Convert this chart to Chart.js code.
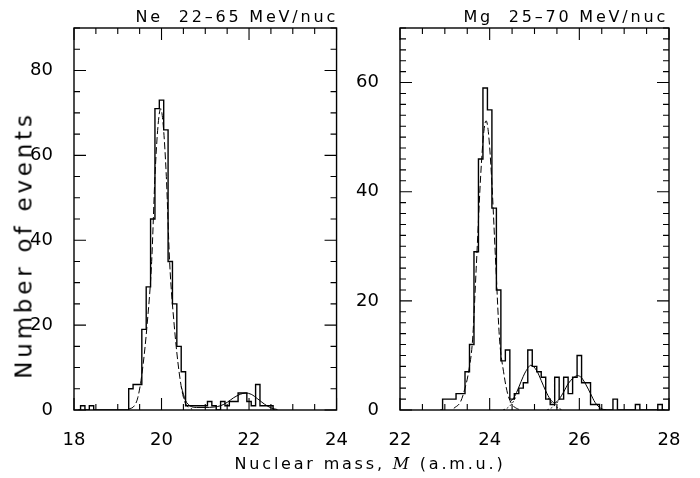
<!DOCTYPE html>
<html>
<head>
<meta charset="utf-8">
<script src="https://cdn.jsdelivr.net/npm/chart.js@4.4.1/dist/chart.umd.min.js"></script>
<style>
  body { margin: 0; background: #fff; }
  #wrap { position: relative; width: 700px; height: 478px; overflow: hidden;
          font-family: 'DejaVu Sans ExtraLight', 'DejaVu Sans', sans-serif; color: #000; }
  canvas { position: absolute; top: 0; }
  .lbl { position: absolute; white-space: nowrap; line-height: 1; }
</style>
</head>
<body>
<div id="wrap">
  <canvas id="neChart" width="360" height="478" style="left:0"></canvas>
  <canvas id="mgChart" width="350" height="478" style="left:350px"></canvas>
  <div class="lbl" style="right:362px; top:9px; font-size:16px; letter-spacing:2.8px;">Ne&nbsp;&nbsp;22–65 MeV/nuc</div>
  <div class="lbl" style="right:32px; top:9px; font-size:16px; letter-spacing:2.8px;">Mg&nbsp;&nbsp;25–70 MeV/nuc</div>
  <div class="lbl" style="left:24px; top:245px; font-size:23px; letter-spacing:3.8px; transform:translate(-50%,-50%) rotate(-90deg);">Number of events</div>
  <div class="lbl" style="left:370px; top:456px; font-size:16px; letter-spacing:2.8px; transform:translateX(-50%);">Nuclear mass, <span style="font-family:'DejaVu Serif',serif; font-style:italic;">M</span> (a.m.u.)</div>
</div>
<script>
// Ne panel: histogram bins (centre, amu) and counts
const neBins = [18.1, 18.2, 18.3, 18.4, 18.5, 18.6, 18.7, 18.8, 18.9, 19.0, 19.1, 19.2,
                19.3, 19.4, 19.5, 19.6, 19.7, 19.8, 19.9, 20.0, 20.1, 20.2, 20.3, 20.4,
                20.5, 20.6, 20.7, 20.8, 20.9, 21.0, 21.1, 21.2, 21.3, 21.4, 21.5, 21.6,
                21.7, 21.8, 21.9, 22.0, 22.1, 22.2, 22.3, 22.4, 22.5, 22.6];
const neCounts = [0, 1, 0, 1, 0, 0, 0, 0, 0, 0, 0, 0,
                  5, 6, 6, 19, 29, 45, 71, 73, 66, 35, 25, 15,
                  9, 1, 1, 1, 1, 1, 2, 1, 0, 2, 1, 2,
                  2, 4, 4, 2, 1, 6, 1, 1, 1, 0];
// Ne fits: main peak (dashed) and tail + 22Ne peak (solid)
const neFitX = [19.25, 19.38, 19.46, 19.555, 19.67, 19.775, 19.85, 19.92, 19.98, 20.04, 20.11, 20.185, 20.29, 20.405, 20.5, 20.58, 20.7];
const neFitY = [0.2, 1, 3, 8.7, 20, 35, 55, 67, 71, 67, 55, 35, 20, 8.7, 3, 1, 0.2];
const neSideX = [20.45, 20.55, 20.65, 20.8, 21.0, 21.2, 21.35, 21.5, 21.65, 21.8, 21.92, 22.05, 22.2, 22.35, 22.5, 22.65];
const neSideY = [5.5, 2.2, 1, 0.6, 0.6, 0.7, 1, 1.8, 2.9, 3.7, 4, 3.7, 2.6, 1.4, 0.5, 0.1];

// Mg panel
const mgBins = [22.9, 23.0, 23.1, 23.2, 23.3, 23.4, 23.5, 23.6, 23.7, 23.8, 23.9, 24.0,
                24.1, 24.2, 24.3, 24.4, 24.5, 24.6, 24.7, 24.8, 24.9, 25.0, 25.1, 25.2,
                25.3, 25.4, 25.5, 25.6, 25.7, 25.8, 25.9, 26.0, 26.1, 26.2, 26.3, 26.4,
                26.5, 26.6, 26.7, 26.8, 26.9, 27.0, 27.1, 27.2, 27.3, 27.4, 27.5, 27.6,
                27.7, 27.8, 27.9];
const mgCounts = [0, 2, 2, 2, 3, 3, 7, 12, 29, 46, 59, 55,
                  37, 22, 9, 11, 2, 3, 4, 5, 11, 8, 7, 6,
                  2, 1, 6, 2, 6, 3, 6, 10, 5, 5, 1, 1,
                  0, 0, 0, 2, 0, 0, 0, 0, 1, 0, 0, 0,
                  0, 1, 0];
const mgFitX = [23.2, 23.35, 23.45, 23.53, 23.62, 23.7, 23.8, 23.87, 23.92, 23.97, 24.04, 24.14, 24.22, 24.31, 24.4, 24.5, 24.6, 24.7];
const mgFitY = [0.3, 1.5, 4, 7, 13, 26, 43, 51, 53, 51, 43, 26, 13, 7, 3, 1, 0.3, 0];
const mgSideX = [24.45, 24.52, 24.6, 24.7, 24.8, 24.92, 25.05, 25.15, 25.25, 25.35, 25.45, 25.55, 25.65, 25.75, 25.87, 25.96, 26.05, 26.15, 26.25, 26.35, 26.48, 26.6];
const mgSideY = [1.5, 2, 3.2, 5.2, 7, 8.2, 7.2, 5.4, 3.5, 2, 1.3, 2, 3.3, 4.8, 5.9, 6.3, 5.9, 4.6, 3, 1.4, 0.3, 0];
// dotted component tails where the fitted peaks cross (null = break)
const mgDotX = [24.3, 24.4, 24.5, 24.58, null, 25.3, 25.42, 25.52, 25.62, null, 25.28, 25.38, 25.48, 25.58];
const mgDotY = [0, 0.4, 1.2, 2.3, null, 2.2, 1, 0.4, 0, null, 0, 0.4, 1.1, 2.2];

const pts = (xs, ys) => xs.map((x, i) => ({ x: x === null ? NaN : x, y: ys[i] }));
const tickFont = { family: "'DejaVu Sans ExtraLight', 'DejaVu Sans', sans-serif", size: 18 };

// box around the plot with inward ticks on all four sides
const frame = {
  id: 'frame',
  afterDatasetsDraw(chart, args, o) {
    const { ctx, chartArea: a, scales: { x, y } } = chart;
    const near = (v, step) => Math.abs(v / step - Math.round(v / step)) < 1e-6;
    ctx.save();
    ctx.strokeStyle = '#000';
    ctx.lineWidth = 1.4;
    ctx.strokeRect(a.left, a.top, a.right - a.left, a.bottom - a.top);
    ctx.beginPath();
    for (let v = x.min; v <= x.max + 1e-6; v += o.xMinor) {
      const p = x.getPixelForValue(v);
      const len = near(v, o.xMajor) ? 12 : 6;
      ctx.moveTo(p, a.bottom); ctx.lineTo(p, a.bottom - len);
      ctx.moveTo(p, a.top); ctx.lineTo(p, a.top + len);
    }
    for (let v = y.min; v <= y.max + 1e-6; v += o.yMinor) {
      const p = y.getPixelForValue(v);
      const len = near(v, o.yMajor) ? 12 : 6;
      ctx.moveTo(a.left, p); ctx.lineTo(a.left + len, p);
      ctx.moveTo(a.right, p); ctx.lineTo(a.right - len, p);
    }
    ctx.lineWidth = 1.1;
    ctx.stroke();
    ctx.restore();
  }
};

function panel(id, s) {
  const sets = [
    { data: pts(s.bins, s.counts), stepped: 'middle', borderColor: '#000', borderWidth: 1.4, pointRadius: 0, fill: false },
    { data: pts(s.fitX, s.fitY), borderColor: '#000', borderWidth: 1, borderDash: [7, 3], cubicInterpolationMode: 'monotone', pointRadius: 0, fill: false },
    { data: pts(s.sideX, s.sideY), borderColor: '#000', borderWidth: 1, cubicInterpolationMode: 'monotone', pointRadius: 0, fill: false }
  ];
  if (s.dotX) {
    sets.push({ data: s.dotX.map((x, i) => ({ x: x, y: s.dotY[i] })), borderColor: '#000', borderWidth: 0.9,
      borderDash: [2, 2], tension: 0.3, pointRadius: 0, fill: false, spanGaps: false });
  }
  return new Chart(document.getElementById(id), {
    type: 'line',
    data: { datasets: sets },
    options: {
      responsive: false,
      animation: false,
      events: [],
      layout: { padding: { top: 28, right: s.padRight, left: 0, bottom: 0 } },
      plugins: {
        legend: { display: false },
        tooltip: { enabled: false },
        frame: { xMajor: 2, xMinor: 0.5, yMajor: s.yMajor, yMinor: s.yMinor }
      },
      scales: {
        x: {
          type: 'linear', min: s.xMin, max: s.xMax,
          grid: { display: false }, border: { display: false },
          ticks: { stepSize: 2, padding: 12, color: '#000', font: tickFont, autoSkip: false, maxRotation: 0 },
          afterFit: (sc) => { sc.height = 68; }
        },
        y: {
          min: 0, max: s.yMax,
          grid: { display: false }, border: { display: false },
          ticks: { stepSize: 20, padding: 13, color: '#000', font: tickFont },
          afterBuildTicks: (sc) => { sc.ticks = sc.ticks.filter(t => t.value % 20 === 0); },
          afterFit: (sc) => { sc.width = s.yWidth; }
        }
      }
    },
    plugins: [frame]
  });
}

panel('neChart', { bins: neBins, counts: neCounts, fitX: neFitX, fitY: neFitY, sideX: neSideX, sideY: neSideY,
  xMin: 18, xMax: 24, yMax: 90, yMajor: 20, yMinor: 5, yWidth: 74, padRight: 20 });
panel('mgChart', { bins: mgBins, counts: mgCounts, fitX: mgFitX, fitY: mgFitY, sideX: mgSideX, sideY: mgSideY,
  dotX: mgDotX, dotY: mgDotY,
  xMin: 22, xMax: 28, yMax: 70, yMajor: 20, yMinor: 2, yWidth: 50, padRight: 31 });
</script>
</body>
</html>
